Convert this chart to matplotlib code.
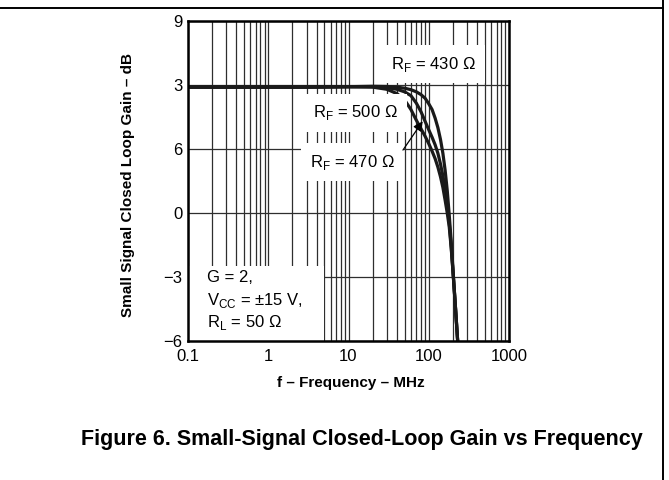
import numpy as np
import matplotlib
matplotlib.use('Agg')
import matplotlib.pyplot as plt
from matplotlib.lines import Line2D
from matplotlib.patches import Rectangle
from matplotlib.ticker import LogLocator, NullFormatter

plt.rcParams['font.family'] = ['Liberation Sans', 'DejaVu Sans']
plt.rcParams['mathtext.fontset'] = 'custom'
plt.rcParams['mathtext.rm'] = 'Liberation Sans'

# Frequence (MHz) et gain (dB)
freq = [0.1, 0.3, 1, 3, 10, 20, 30, 40, 50, 60, 70, 80, 90, 100, 110, 120,
        130, 140, 150, 160, 170, 180, 190, 200, 215, 232]
gain_430 = [5.9, 5.9, 5.9, 5.9, 5.92, 5.94, 5.93, 5.9, 5.85, 5.78, 5.68, 5.55,
            5.38, 5.12, 4.85, 4.45, 4.0, 3.45, 2.8, 2.0, 1.05, -0.1, -1.3,
            -2.6, -4.4, -6.3]
gain_470 = [5.9, 5.9, 5.9, 5.9, 5.92, 5.92, 5.88, 5.8, 5.68, 5.5, 5.15, 4.75,
            4.3, 3.9, 3.55, 3.2, 2.8, 2.3, 1.75, 1.1, 0.35, -0.45, -1.5,
            -2.7, -4.4, -6.3]
gain_500 = [5.9, 5.9, 5.9, 5.9, 5.92, 5.9, 5.8, 5.6, 5.3, 4.85, 4.35, 3.95,
            3.6, 3.25, 2.9, 2.55, 2.15, 1.7, 1.2, 0.6, 0.0, -0.65, -1.6,
            -2.7, -4.4, -6.3]

x_ticks = [0.1, 1, 10, 100, 1000]
x_tick_labels = ['0.1', '1', '10', '100', '1000']
y_ticks = [-6, -3, 0, 3, 6, 9]
# etiquettes telles qu'imprimees sur la fiche technique
y_tick_labels = ['\u22126', '\u22123', '0', '6', '3', '9']

fig = plt.figure(figsize=(6.69, 4.8), dpi=100)
ax = fig.add_axes([188 / 669, 1 - 341 / 480, 321 / 669, 320 / 480])

for g in (gain_430, gain_470, gain_500):
    ax.semilogx(freq, g, color='#1a1a1a', lw=2.3, solid_capstyle='butt',
                zorder=2)

ax.set_xlim(0.1, 1000)
ax.set_ylim(-6, 9)
ax.set_xticks(x_ticks)
ax.set_xticklabels(x_tick_labels)
ax.xaxis.set_minor_locator(LogLocator(base=10, subs=np.arange(2, 10)))
ax.xaxis.set_minor_formatter(NullFormatter())
ax.set_yticks(y_ticks)
ax.set_yticklabels(y_tick_labels)
ax.set_axisbelow(True)
ax.grid(True, which='both', axis='x', color='#2e2e2e', lw=0.9)
ax.grid(True, which='major', axis='y', color='#2e2e2e', lw=0.9)
ax.tick_params(which='both', length=0, labelsize=12)
ax.tick_params(axis='x', pad=6)
ax.tick_params(axis='y', pad=4)
for s in ax.spines.values():
    s.set_linewidth(1.8)
    s.set_zorder(5)

box = dict(boxstyle='square,pad=0.55', fc='white', ec='none')
ax.text(113, 6.98, 'R$_\\mathregular{F}$ = 430 \u03a9', fontsize=12,
        ha='center', va='center', bbox=box, zorder=3)
ax.text(12.1, 4.69, 'R$_\\mathregular{F}$ = 500 \u03a9', fontsize=12,
        ha='center', va='center', bbox=box, zorder=3)
ax.text(11.1, 2.39, 'R$_\\mathregular{F}$ = 470 \u03a9', fontsize=12,
        ha='center', va='center', bbox=box, zorder=3)
ax.annotate('', xy=(84, 4.3), xytext=(47.7, 2.95),
            arrowprops=dict(arrowstyle='-|>', color='black', lw=0.9,
                            mutation_scale=14, shrinkA=0, shrinkB=0),
            zorder=4)

# cadre des conditions de test
ax.add_patch(Rectangle((0, 0), 0.424, 0.234, transform=ax.transAxes,
                       fc='white', ec='none', zorder=1))
conditions = ['G = 2,', 'V$_\\mathregular{CC}$ = \u00b115 V,',
              'R$_\\mathregular{L}$ = 50 \u03a9']
for i, c in enumerate(conditions):
    ax.text(0.059, 0.197 - 0.069 * i, c, transform=ax.transAxes,
            fontsize=12, ha='left', va='center', zorder=3)

fig.text(351 / 669, 1 - 383 / 480, 'f \u2013 Frequency \u2013 MHz',
         ha='center', va='center', fontsize=11, fontweight='bold')
fig.text(128 / 669, 1 - 185 / 480, 'Small Signal Closed Loop Gain \u2013 dB',
         ha='center', va='center', rotation=90, fontsize=11,
         fontweight='bold')
fig.text(362 / 669, 1 - 440 / 480,
         'Figure 6. Small-Signal Closed-Loop Gain vs Frequency',
         ha='center', va='center', fontsize=15.5, fontweight='bold')

# filets de la page
fig.add_artist(Line2D([0, 663 / 669], [1 - 8 / 480, 1 - 8 / 480],
                      color='black', lw=1.4, transform=fig.transFigure))
fig.add_artist(Line2D([663 / 669, 663 / 669], [0, 1], color='black', lw=1.4,
                      transform=fig.transFigure))

plt.savefig('out.png', dpi=100)
